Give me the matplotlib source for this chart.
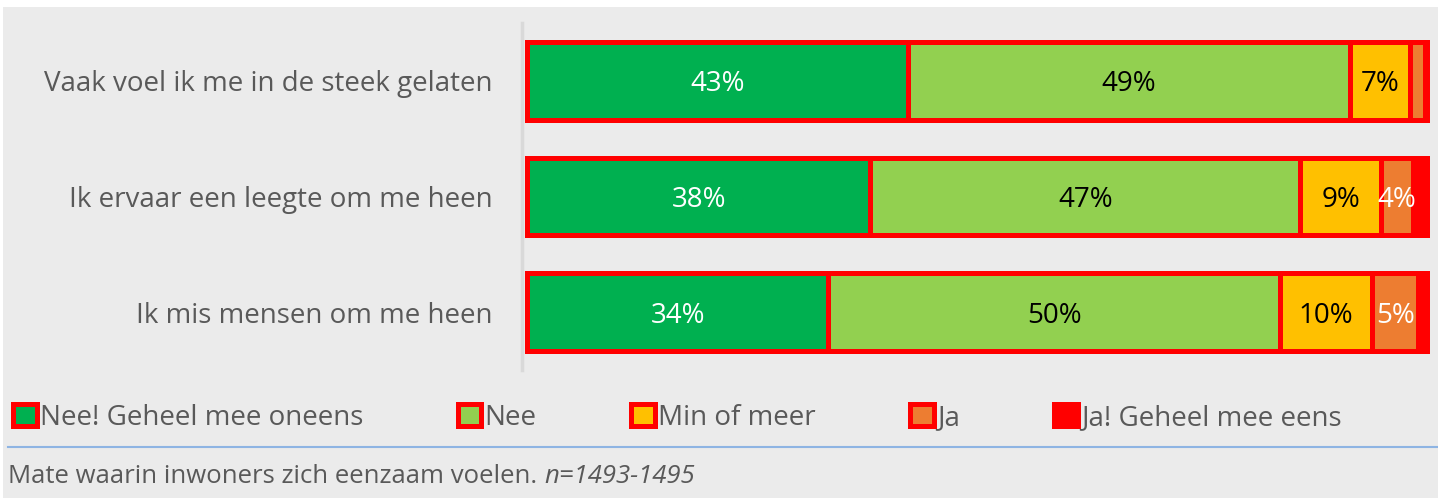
import matplotlib
matplotlib.use('Agg')
import matplotlib.pyplot as plt
import numpy as np

# data
categories = ['Vaak voel ik me in de steek gelaten',
              'Ik ervaar een leegte om me heen',
              'Ik mis mensen om me heen']
series = ['Nee! Geheel mee oneens', 'Nee', 'Min of meer', 'Ja', 'Ja! Geheel mee eens']
values = [
    [42.2, 38.0, 33.3],   # Nee! Geheel mee oneens
    [48.9, 47.6, 50.1],   # Nee
    [6.7, 9.0, 10.2],     # Min of meer
    [1.6, 3.5, 5.1],      # Ja
    [0.6, 1.9, 1.3],      # Ja! Geheel mee eens
]
labels = [
    ['43%', '38%', '34%'],
    ['49%', '47%', '50%'],
    ['7%', '9%', '10%'],
    ['', '4%', '5%'],
    ['', '', ''],
]
footer = 'Mate waarin inwoners zich eenzaam voelen. '
footer_n = 'n=1493-1495'

colors = ['#00B050', '#92D050', '#FFC000', '#ED7D31', '#FF0000']
text_colors = ['white', 'black', 'black', 'white', 'white']
bg = '#EBEBEB'
grey = '#595959'
font = 'Open Sans'
fs = 20

plt.rcParams['font.family'] = [font, 'DejaVu Sans']

W, H = 1438, 498
fig = plt.figure(figsize=(W / 100, H / 100), dpi=100)
fig.patch.set_facecolor('white')

# grey panel below thin white strip
fig.add_artist(plt.Rectangle((3 / W, 0), 1, 1 - 7 / H, transform=fig.transFigure,
                             facecolor=bg, edgecolor='none', zorder=-10))

ax = fig.add_axes([522 / W, 1 - 370 / H, (1430 - 522) / W, 347 / H])
ax.set_facecolor('none')

# spine first: set_position resets the ticks
for side in ['top', 'right', 'bottom']:
    ax.spines[side].set_visible(False)
ax.spines['left'].set_position(('data', -0.6))
ax.spines['left'].set_color('#D9D9D9')
ax.spines['left'].set_linewidth(2.5)

y = np.arange(len(categories))
left = np.zeros(len(categories))
handles = []
for i, s in enumerate(series):
    bars = ax.barh(y, values[i], left=left, height=0.67, color=colors[i],
                   edgecolor='#FF0000', linewidth=3.6, label=s, zorder=2)
    handles.append(bars)
    for j, b in enumerate(bars):
        if labels[i][j]:
            ax.text(left[j] + values[i][j] / 2, y[j], labels[i][j], ha='center',
                    va='center_baseline', color=text_colors[i], fontsize=fs, zorder=3)
    left += np.array(values[i])

ax.set_xlim(-0.6, 100)
ax.set_ylim(2.5, -0.5)
ax.set_yticks(y)
ax.set_yticklabels(categories, fontsize=fs, color=grey)
ax.tick_params(axis='y', length=0, pad=21)
ax.set_xticks([])

leg = fig.legend(handles=handles, labels=series, loc='center left',
                 bbox_to_anchor=(13 / W, 1 - 418 / H), ncol=5, frameon=False,
                 fontsize=fs, handlelength=0.85, handleheight=0.85, handletextpad=0.12,
                 columnspacing=3.4, borderaxespad=0, borderpad=0)
for t in leg.get_texts():
    t.set_color(grey)

# footer separator and caption
fig.add_artist(plt.Line2D([8 / W, 1], [1 - 447 / H, 1 - 447 / H], transform=fig.transFigure,
                          color='#8EB4E3', linewidth=1.5))
t1 = fig.text(8 / W, 1 - 476 / H, footer, fontsize=18.5, color=grey, va='center')
fig.canvas.draw()
bb = t1.get_window_extent()
fig.text(bb.x1 / W, 1 - 476 / H, footer_n, fontsize=18.5, color=grey, va='center',
         style='italic')

fig.savefig('out.png', dpi=100, facecolor=fig.get_facecolor())
